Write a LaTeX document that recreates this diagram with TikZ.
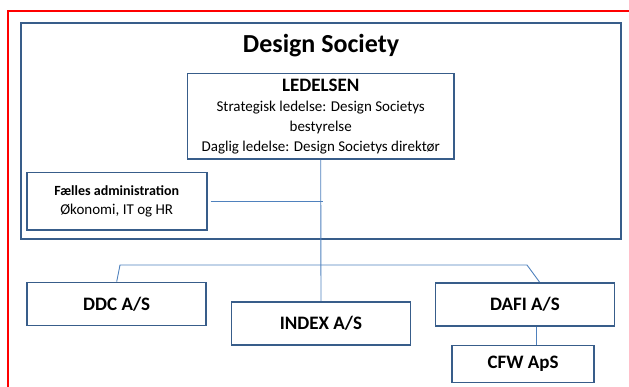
\documentclass[tikz,border=0pt]{standalone}
\usepackage{fontspec}
\setmainfont{Carlito}
\usetikzlibrary{
  calc,
  positioning,
}
\definecolor{boxblue}{RGB}{56,93,138}
\definecolor{lineblue}{RGB}{79,129,189}
\definecolor{framered}{RGB}{255,0,0}
\tikzset{
  orgbox/.style={draw=boxblue,line width=1.6pt,rectangle,fill=white,inner sep=0pt,align=center},
  unitbox/.style={orgbox,minimum width=179pt,minimum height=43pt,font=\fontsize{19}{22}\selectfont\bfseries},
  link/.style={draw=lineblue,line width=0.9pt},
}

\begin{document}
\begin{tikzpicture}[x=1pt,y=-1pt]
        \useasboundingbox (0,0) rectangle (629,387);
        \draw[draw=framered,line width=1.5pt] (8,395) -- (8,11) -- (640,11);

        \node[orgbox,minimum width=600pt,minimum height=216pt]    (ds)    at (320.7,131.2)   {};
        \node[font=\fontsize{26}{30}\selectfont\bfseries]    (dstitle)    at (321,46)   {Design Society};

        \node[orgbox,minimum width=266.7pt,minimum height=85.7pt,font=\fontsize{15}{20}\selectfont]    (ledelsen)    at (320.7,116.2)
            {{\fontsize{19}{20}\selectfont\bfseries LEDELSEN}\\Strategisk ledelse: Design Societys\\bestyrelse\\Daglig ledelse: Design Societys direktør};
        \node[orgbox,minimum width=180pt,minimum height=57.3pt,font=\fontsize{15}{19}\selectfont]    (faelles)    at (116.7,201.3)
            {{\fontsize{14}{19}\selectfont\bfseries Fælles administration}\\Økonomi, IT og HR};

        \node[unitbox]    (ddc)      at (116.7,304)     {DDC A/S};
        \node[unitbox]    (index)    at (321,323.5)     {INDEX A/S};
        \node[unitbox]    (dafi)     at (525,304.3)     {DAFI A/S};
        \node[unitbox,minimum width=142.3pt,minimum height=37pt]    (cfw)    [below=18pt of dafi,xshift=-2pt]   {CFW ApS};

        \coordinate (admjoin) at (323,201.3);
        \coordinate (ddcbend) at (120,265);
        \coordinate (dafibend) at (527,265);

        \draw[link] ([xshift=3pt]faelles.east) -- (admjoin);
        \draw[link] (ledelsen.south) -- (index.north);
        \draw[link] (ddc.north) -- (ddcbend) -- (dafibend) -- (dafi.57);
        \draw[link] ([xshift=11pt]dafi.south) -- ([xshift=11pt]dafi.south |- cfw.north);

\end{tikzpicture}
\end{document}
